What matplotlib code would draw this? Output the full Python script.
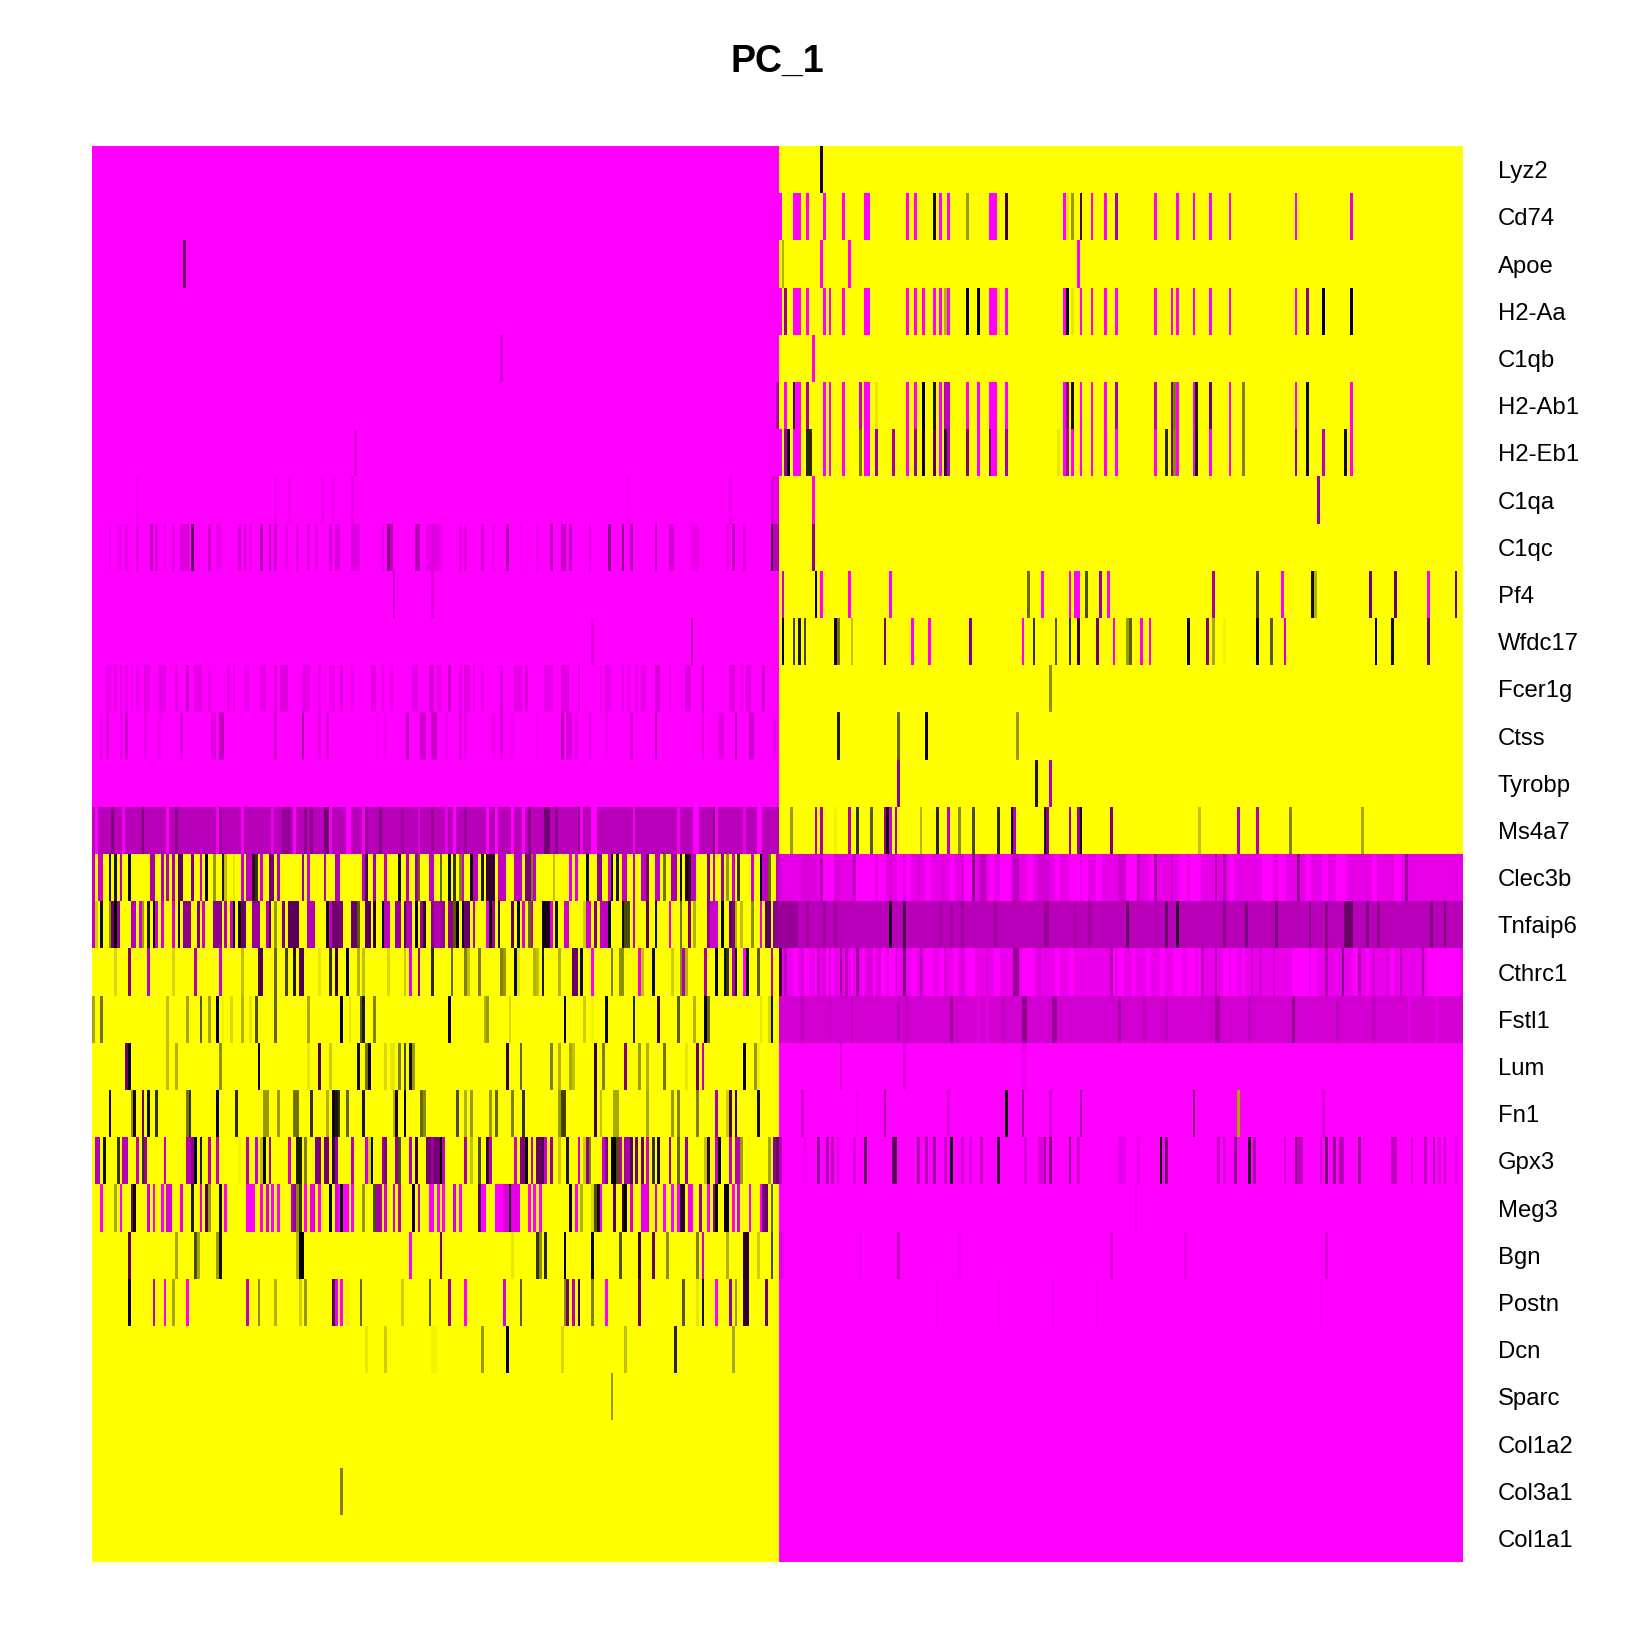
import numpy as np
import matplotlib
matplotlib.use('Agg')
import matplotlib.pyplot as plt
from matplotlib.colors import LinearSegmentedColormap

M = -1.0  # full magenta

genes = ['Lyz2', 'Cd74', 'Apoe', 'H2-Aa', 'C1qb', 'H2-Ab1', 'H2-Eb1', 'C1qa', 'C1qc', 'Pf4',
         'Wfdc17', 'Fcer1g', 'Ctss', 'Tyrobp', 'Ms4a7', 'Clec3b', 'Tnfaip6', 'Cthrc1', 'Fstl1', 'Lum',
         'Fn1', 'Gpx3', 'Meg3', 'Bgn', 'Postn', 'Dcn', 'Sparc', 'Col1a2', 'Col3a1', 'Col1a1']

n_cells = 497

# background scaled value left / right of the split, and the split cell of each row
left_bg = [M]*14 + [-0.72] + [1.0]*15
right_bg = [1.0]*15 + [-0.9, -0.72, -0.92, -0.82] + [M]*11
split = [249, 250, 249, 250, 249, 249, 250, 249, 249, 249,
         249, 249, 249, 249, 249, 248, 248, 249, 249, 249,
         249, 248, 249, 249, 249, 249, 249, 249, 249, 249]

# cells that differ from the row background (cell: scaled value)
lyz2 = {265: -0.1}
cd74 = {255: M, 256: M, 257: M, 260: M, 266: M, 273: M, 281: M, 282: M, 296: M, 299: M, 306: 0.05, 308: M, 311: M,
        318: 0.6, 326: M, 327: M, 328: M, 332: -0.25, 353: M, 354: 0.9, 356: 0.6, 359: -0.3, 363: M, 368: M,
        372: -0.65, 386: M, 394: M, 400: M, 406: M, 413: M, 437: M, 457: -0.9}
apoe = {33: -0.4, 251: 0.7, 265: M, 275: M, 358: M}
h2_aa = {252: -0.6, 255: M, 256: M, 257: M, 260: M, 266: M, 268: M, 273: M, 281: M, 282: M, 296: M, 299: M, 302: M,
         306: M, 308: M, 310: 0.7, 311: M, 318: 0.0, 322: 0.0, 326: M, 327: M, 328: M, 329: 0.9, 332: M, 353: M,
         354: 0.0, 356: 0.9, 359: M, 363: M, 368: M, 372: M, 386: M, 392: M, 394: M, 400: M, 406: M, 413: M,
         437: M, 441: -0.55, 447: 0.0, 457: 0.0}
c1qb = {148: -0.85, 262: M}
h2_ab1 = {249: -0.7, 252: M, 255: -0.3, 256: M, 257: M, 260: -0.65, 266: M, 268: M, 273: M, 279: -0.8, 281: M, 282: M,
          285: 0.9, 296: M, 299: M, 302: 0.0, 306: 0.1, 308: M, 310: -0.75, 311: -0.75, 318: M, 322: M, 326: M,
          327: M, 328: M, 332: M, 353: M, 354: -0.55, 356: 0.05, 359: M, 363: M, 368: M, 372: -0.65, 386: -0.75,
          392: -0.5, 393: 0.5, 394: M, 400: M, 401: 0.1, 406: -0.4, 413: M, 418: 0.5, 437: M, 441: 0.05, 457: M}
h2_eb1 = {95: -0.85, 252: -0.6, 253: 0.0, 255: M, 256: M, 257: M, 260: 0.15, 261: 0.15, 266: M, 268: M, 273: M,
          279: 0.45, 281: M, 282: M, 285: -0.6, 291: -0.65, 296: M, 299: -0.6, 302: -0.1, 306: -0.35, 308: M,
          310: -0.2, 311: -0.7, 318: -0.5, 322: M, 326: -0.5, 327: M, 328: M, 332: -0.65, 351: 0.9, 353: M,
          354: -0.65, 356: M, 359: M, 363: M, 368: M, 372: M, 386: M, 390: 0.15, 392: -0.5, 393: 0.55, 394: M,
          400: M, 401: 0.05, 406: M, 413: M, 418: 0.5, 437: -0.6, 441: 0.05, 447: -0.75, 455: 0.05, 457: M}
c1qa = {16: -0.93, 66: -0.93, 71: -0.93, 83: -0.93, 87: -0.93, 94: -0.9, 194: -0.94, 231: -0.92, 246: -0.85,
        247: -0.9, 248: -0.9, 262: M, 445: -0.6}
c1qc = {6: -0.93, 9: -0.93, 10: -0.93, 12: -0.9, 16: -0.88, 21: -0.75, 23: -0.85, 26: -0.92, 29: -0.88, 32: -0.85,
        33: -0.85, 34: -0.85, 36: -0.35, 42: -0.8, 45: -0.93, 46: -0.93, 53: -0.8, 55: -0.85, 57: -0.9, 61: -0.7,
        64: -0.75, 66: -0.8, 70: -0.9, 74: -0.88, 78: -0.85, 81: -0.9, 86: -0.8, 88: -0.85, 89: -0.85, 94: -0.88,
        95: -0.88, 96: -0.88, 105: -0.9, 107: -0.5, 108: -0.75, 117: -0.7, 118: -0.7, 121: -0.9, 122: -0.9,
        123: -0.88, 124: -0.88, 125: -0.88, 126: -0.93, 133: -0.88, 135: -0.88, 141: -0.82, 145: -0.93, 150: -0.7,
        155: -0.95, 161: -0.9, 166: -0.72, 170: -0.78, 171: -0.78, 173: -0.75, 180: -0.88, 187: -0.55, 192: -0.55,
        195: -0.7, 204: -0.75, 209: -0.8, 210: -0.8, 217: -0.92, 218: -0.92, 219: -0.92, 221: -0.95, 230: -0.9,
        232: -0.75, 236: -0.85, 246: -0.3, 247: -0.72, 248: -0.72, 262: -0.55}
pf4 = {109: -0.8, 123: -0.85, 251: -0.8, 263: 0.0, 265: M, 275: M, 290: M, 340: 0.4, 345: M, 355: M, 357: M, 358: M,
       361: 0.3, 366: -0.6, 369: M, 407: -0.65, 423: 0.25, 432: M, 443: 0.05, 444: 0.7, 464: -0.45, 473: -0.4,
       485: M, 495: -0.4}
wfdc17 = {181: -0.85, 217: -0.7, 251: 0.0, 255: 0.25, 257: 0.1, 259: 0.3, 270: -0.1, 271: 0.45, 276: 0.75, 288: -0.5,
          298: M, 304: M, 319: -0.5, 338: M, 342: 0.2, 350: 0.35, 355: 0.2, 358: -0.2, 365: -0.45, 371: M, 376: 0.6,
          377: 0.35, 381: M, 384: M, 398: 0.0, 405: -0.5, 407: 0.65, 411: 0.95, 423: 0.0, 428: 0.35, 433: -0.8,
          466: 0.0, 472: 0.05, 485: -0.4}
fcer1g = {5: -0.92, 6: -0.92, 8: -0.92, 10: -0.9, 12: -0.92, 14: -0.92, 16: -0.9, 19: -0.9, 20: -0.9, 24: -0.9,
          25: -0.9, 26: -0.9, 30: -0.9, 34: -0.78, 37: -0.9, 38: -0.9, 39: -0.9, 42: -0.92, 49: -0.88, 51: -0.92,
          55: -0.92, 56: -0.92, 61: -0.9, 62: -0.9, 66: -0.85, 68: -0.87, 69: -0.87, 70: -0.87, 76: -0.9, 77: -0.9,
          78: -0.9, 82: -0.9, 86: -0.92, 87: -0.92, 90: -0.85, 94: -0.92, 101: -0.88, 102: -0.88, 105: -0.92,
          108: -0.92, 116: -0.9, 117: -0.9, 122: -0.85, 123: -0.85, 125: -0.9, 126: -0.9, 129: -0.8, 133: -0.9,
          135: -0.88, 136: -0.88, 138: -0.92, 141: -0.9, 148: -0.85, 153: -0.9, 154: -0.9, 155: -0.9, 157: -0.85,
          164: -0.92, 165: -0.9, 166: -0.9, 170: -0.88, 171: -0.88, 172: -0.88, 176: -0.85, 184: -0.92, 186: -0.9,
          187: -0.9, 192: -0.92, 194: -0.92, 197: -0.9, 199: -0.9, 200: -0.9, 204: -0.85, 205: -0.85, 209: -0.92,
          215: -0.87, 216: -0.87, 221: -0.8, 231: -0.87, 232: -0.87, 235: -0.92, 237: -0.88, 238: -0.88, 243: -0.8,
          348: 0.55}
ctss = {3: -0.93, 5: -0.85, 10: -0.88, 12: -0.8, 19: -0.92, 24: -0.93, 32: -0.85, 43: -0.88, 44: -0.88, 46: -0.75,
        47: -0.75, 66: -0.8, 76: -0.65, 82: -0.88, 85: -0.85, 103: -0.93, 106: -0.93, 114: -0.75, 119: -0.8,
        120: -0.8, 123: -0.8, 124: -0.75, 128: -0.93, 133: -0.85, 135: -0.92, 145: -0.92, 148: -0.85, 152: -0.93,
        161: -0.93, 170: -0.7, 172: -0.85, 173: -0.85, 175: -0.92, 180: -0.88, 186: -0.93, 195: -0.85, 204: -0.7,
        221: -0.85, 227: -0.88, 228: -0.88, 233: -0.75, 238: -0.8, 239: -0.8, 247: -0.9,
        271: 0.1, 293: 0.4, 303: 0.0, 336: 0.6}
tyrobp = {293: -0.55, 343: 0.1, 348: -0.7}
ms4a7 = {1: M, 7: -0.5, 11: -0.95, 18: -0.45, 27: M, 30: -0.55, 45: -0.95, 46: -0.6, 54: -0.95, 65: -0.9, 69: -0.6,
         70: -0.6, 71: -0.6, 73: M, 77: -0.55, 79: -0.55, 84: -0.45, 85: -0.45, 86: -0.95, 92: M, 93: M, 98: -0.95,
         99: -0.6, 104: -0.5, 112: -0.62, 118: -0.85, 123: -0.6, 128: -0.9, 131: M, 135: -0.6, 143: M, 146: M,
         152: M, 156: M, 158: -0.55, 164: -0.45, 165: -0.45, 168: -0.55, 176: -0.55, 177: -0.95, 181: M, 182: M,
         196: -0.95, 212: -0.95, 218: M, 219: M, 225: -0.5, 226: -0.95, 236: -0.9, 241: M, 242: M,
         254: 0.6, 263: -0.7, 265: -0.65, 270: 0.95, 275: -0.7, 278: 0.2, 283: 0.35, 288: -0.6, 289: -0.05, 290: -0.8,
         292: -0.65, 301: 0.7, 307: 0.15, 311: -0.75, 315: 0.55, 320: 0.3, 329: 0.15, 334: 0.05, 335: -0.7, 346: 0.1,
         347: -0.55, 355: -0.6, 358: -0.6, 359: -0.05, 370: -0.5, 402: 0.75, 416: -0.7, 423: -0.7, 435: 0.5, 461: 0.65}
clec3b = {0: -0.75, 2: -0.8, 3: -0.8, 6: 0.1, 8: 0.1, 10: -0.7, 13: 0.05, 21: -0.65, 22: -0.65, 25: -0.7, 27: -0.7,
          29: -0.65, 31: -0.35, 32: -0.35, 36: -0.5, 39: -0.8, 41: 0.0, 44: 0.6, 47: 0.1, 48: 0.75, 51: 0.9, 54: -0.8,
          56: -0.75, 57: -0.75, 58: -0.2, 59: 0.2, 61: -0.8, 64: -0.45, 65: -0.45, 67: -0.7, 76: -0.6, 78: -0.8,
          84: -0.7, 88: -0.7, 89: -0.7, 98: -0.75, 99: -0.25, 102: -0.65, 106: -0.75, 111: 0.05, 114: -0.7, 117: -0.6,
          118: 0.4, 122: -0.75, 123: -0.75, 126: 0.4, 129: 0.05, 131: 0.2, 133: 0.5, 134: -0.8, 137: 0.05, 138: -0.75,
          139: -0.75, 141: 0.1, 143: -0.2, 144: -0.2, 145: -0.2, 147: -0.75, 148: -0.75, 149: -0.75, 153: -0.75,
          154: -0.75, 155: -0.75, 157: -0.5, 158: -0.5, 159: 0.5, 160: -0.75, 167: 0.75, 173: -0.9, 175: -0.9,
          179: 0.05, 183: -0.55, 184: -0.55, 187: -0.85, 188: 0.0, 190: 0.1, 192: -0.75, 193: -0.75, 196: -0.75,
          199: -0.75, 200: -0.75, 201: -0.45, 204: -0.75, 205: -0.75, 207: 0.45, 210: -0.65, 211: -0.65, 213: 0.05,
          215: -0.1, 216: -0.2, 217: -0.75, 218: -0.75, 223: -0.55, 225: -0.75, 228: -0.6, 230: 0.6, 232: -0.8,
          234: 0.2, 239: -0.8, 242: 0.0, 243: -0.75, 244: -0.75, 245: 0.4,
          248: -0.55, 249: -0.75, 250: -0.85, 258: -0.85, 259: -0.85, 260: -0.85, 261: -0.85, 262: -0.85, 263: -0.85,
          265: -0.7, 270: -0.85, 271: -0.85, 277: -0.75, 290: -0.85, 300: -0.85, 309: -0.85, 316: -0.85, 320: -0.55,
          323: -0.75, 324: -0.75, 335: -0.75, 336: -0.75, 344: -0.82, 345: -0.82, 346: -0.82, 347: -0.82,
          373: -0.8, 374: -0.8, 375: -0.8, 380: -0.75, 386: -0.65, 392: -0.8, 408: -0.65, 411: -0.7,
          438: -0.55, 477: -0.6}
clec3b_light = [266, 267, 268, 269, 278, 279, 280, 281, 282, 283, 284, 286, 287, 288, 293, 294, 296, 297, 303, 304,
                312, 313, 317, 318, 319, 326, 327, 330, 331, 332, 333, 340, 341, 350, 351, 355, 356, 357, 358, 360,
                361, 365, 366, 376, 377, 378, 379, 384, 385, 395, 396, 397, 399, 400, 401, 402, 413, 414, 425, 426,
                427, 428, 431, 432, 433, 441, 442, 447, 448, 452, 453, 454, 455, 465, 466, 473, 474, 475]
tnfaip6 = {0: -0.75, 1: 0.8, 3: 0.05, 6: 0.55, 7: -0.4, 8: 0.0, 9: -0.6, 14: -0.7, 15: -0.7, 17: -0.85, 18: 0.6,
           20: 0.1, 22: 0.0, 23: -0.8, 25: -0.85, 29: -0.85, 31: 0.05, 33: -0.55, 34: -0.55, 35: -0.55, 38: -0.5,
           40: -0.8, 44: -0.55, 45: -0.55, 46: -0.55, 48: -0.7, 50: -0.8, 51: 0.0, 53: 0.05, 54: -0.4, 55: -0.4,
           58: -0.6, 59: -0.6, 60: -0.6, 63: -0.7, 64: -0.3, 66: 0.6, 69: -0.5, 71: -0.35, 72: -0.35, 73: -0.35,
           74: -0.35, 78: -0.7, 79: -0.7, 80: -0.7, 85: 0.05, 86: -0.75, 87: -0.45, 88: -0.45, 89: -0.45, 90: -0.45,
           94: -0.4, 95: -0.4, 96: 0.35, 99: -0.35, 100: -0.35, 102: -0.15, 105: 0.0, 106: -0.75, 107: -0.75,
           110: -0.6, 111: -0.6, 113: -0.35, 114: -0.7, 115: -0.7, 117: 0.0, 119: -0.6, 120: -0.15, 123: -0.55,
           124: -0.7, 125: -0.7, 126: -0.6, 127: -0.6, 129: -0.55, 130: -0.55, 131: 0.35, 132: 0.0, 134: -0.1,
           135: -0.4, 136: -0.4, 138: -0.7, 143: -0.9, 144: 0.0, 145: -0.6, 147: 0.1, 152: -0.35, 154: 0.0, 156: -0.85,
           158: 0.4, 159: -0.7, 163: -0.1, 164: -0.1, 165: -0.1, 166: -0.85, 168: 0.05, 171: -0.8, 172: -0.8, 178: 0.8,
           179: -0.8, 180: -0.8, 182: -0.5, 184: -0.75, 185: -0.75, 186: -0.75, 187: 0.0, 192: 0.05, 193: 0.3, 194: 0.3,
           196: -0.75, 201: -0.35, 204: 0.05, 209: -0.9, 213: 0.45, 216: -0.5, 218: 0.7, 223: -0.55, 224: -0.8,
           225: -0.8, 226: -0.8, 228: 0.0, 231: -0.4, 232: -0.5, 233: 0.7, 235: 0.75, 239: 0.55, 242: -0.9, 244: -0.35,
           245: -0.35, 247: -0.55, 248: -0.55,
           250: -0.6, 251: -0.6, 252: -0.6, 253: -0.6, 254: -0.6, 255: -0.6, 256: -0.6, 260: -0.62, 266: -0.62,
           270: -0.62, 290: -0.1, 295: -0.3, 308: -0.65, 312: -0.62, 316: -0.62, 328: -0.62, 346: -0.6, 347: -0.6,
           357: -0.65, 362: -0.62, 376: -0.4, 390: -0.4, 394: -0.2, 411: -0.55, 419: -0.5, 430: -0.45, 442: -0.55,
           448: -0.55, 455: -0.4, 456: -0.4, 457: -0.4, 463: -0.5, 467: -0.55, 486: -0.5, 491: -0.5}
cthrc1 = {8: 0.85, 13: -0.5, 20: -0.75, 29: 0.85, 37: -0.7, 46: -0.8, 54: 0.75, 60: -0.3, 61: -0.3, 66: 0.4, 70: 0.25,
          73: 0.1, 75: -0.3, 76: -0.3, 82: 0.9, 86: 0.2, 88: -0.2, 92: 0.0, 96: 0.7, 98: 0.75, 107: 0.85, 113: 0.8,
          115: -0.9, 118: -0.6, 123: 0.15, 130: 0.4, 135: 0.5, 136: 0.75, 140: 0.5, 148: 0.5, 149: 0.6, 153: 0.05,
          154: 0.9, 160: 0.7, 161: 0.75, 163: 0.1, 169: 0.7, 174: -0.4, 175: -0.4, 177: 0.05, 181: M, 188: 0.5,
          191: 0.55, 192: 0.55, 198: -0.95, 199: 0.75, 203: 0.05, 210: 0.8, 213: 0.55, 214: -0.7, 215: 0.7, 222: -0.65,
          226: 0.0, 229: 0.05, 230: 0.2, 232: -0.7, 233: 0.1, 236: M, 237: 0.05, 241: 0.35, 246: -0.7,
          250: -0.2, 252: -0.75, 258: -0.85, 264: -0.8, 266: -0.85, 268: -0.85, 272: -0.6, 274: -0.75,
          278: -0.6, 282: -0.85, 283: -0.85, 286: -0.85, 295: -0.5, 301: -0.7, 310: -0.85, 316: -0.85, 325: -0.85,
          335: -0.6, 336: -0.6, 344: -0.85, 370: -0.7, 403: -0.75, 408: -0.7, 421: -0.8, 424: -0.8, 429: -0.8,
          448: -0.7, 454: -0.5, 460: -0.7, 465: -0.85, 470: -0.85, 475: -0.7, 483: -0.65}
cthrc1_light = [255, 256, 259, 260, 263, 267, 269, 276, 280, 284, 287, 288, 290, 291, 298, 299, 303, 304, 305, 308,
                309, 313, 314, 318, 319, 320, 328, 329, 338, 339, 340, 341, 342, 350, 351, 355, 356, 371, 373, 374,
                378, 383, 384, 388, 389, 393, 394, 395, 398, 399, 400, 402, 411, 412, 414, 415, 418, 436, 437, 438,
                439, 440, 441, 443, 444, 458, 459, 463, 472, 485, 486, 487, 488, 489, 490, 491, 492, 493, 494, 495, 496]
fstl1 = {0: 0.65, 3: 0.45, 27: 0.75, 34: 0.65, 39: 0.35, 42: 0.65, 45: 0.0, 47: 0.95, 50: 0.85, 54: 0.7, 57: 0.9, 59: 0.3,
         66: 0.4, 78: 0.65, 90: 0.0, 93: 0.9, 97: 0.35, 98: 0.1, 102: 0.5, 129: 0.0, 142: 0.7, 143: 0.6, 151: 0.85,
         171: 0.0, 178: 0.8, 181: 0.95, 186: 0.0, 196: 0.15, 205: -0.2, 212: 0.35, 218: 0.7, 222: 0.0, 223: 0.4,
         242: 0.9, 245: 0.85, 246: 0.05,
         258: -0.75, 268: -0.78, 276: -0.75, 293: -0.72, 296: -0.75, 312: -0.6, 322: -0.88, 325: -0.88, 331: -0.75,
         338: -0.55, 339: -0.55, 349: -0.6, 350: -0.6, 373: -0.65, 382: -0.75, 390: -0.75, 408: -0.65, 409: -0.65,
         420: -0.75, 436: -0.55, 452: -0.75, 465: -0.75, 478: -0.88, 488: -0.88}
lum = {12: -0.4, 13: 0.0, 27: 0.75, 30: 0.7, 46: 0.55, 60: 0.0, 78: 0.9, 82: -0.3, 86: 0.8, 96: 0.05, 99: 0.45, 100: 0.0,
       106: 0.85, 108: 0.9, 109: 0.9, 111: 0.5, 113: 0.3, 115: 0.05, 116: 0.6, 150: -0.2, 155: 0.4, 166: 0.5, 169: 0.7,
       173: 0.65, 174: 0.75, 182: -0.2, 185: 0.5, 193: -0.5, 198: 0.6, 201: 0.7, 207: 0.45, 215: 0.9, 219: -0.4,
       221: -0.75, 236: 0.0, 240: 0.6, 241: 0.95, 272: -0.85, 295: -0.88, 338: -0.93, 339: -0.93}
fn1 = {6: -0.1, 14: 0.55, 15: -0.1, 18: -0.45, 20: 0.05, 23: 0.2, 34: 0.45, 35: 0.2, 45: 0.0, 52: 0.15, 62: 0.6, 63: 0.6,
       67: 0.6, 73: 0.45, 74: 0.45, 79: 0.2, 85: 0.7, 87: -0.1, 88: 0.1, 89: 0.2, 92: 0.4, 98: 0.1, 109: 0.7, 110: -0.1,
       113: 0.0, 119: 0.4, 120: 0.55, 132: 0.3, 135: 0.7, 137: 0.6, 144: 0.6, 146: 0.4, 152: 0.5, 156: 0.2, 169: 0.6,
       170: 0.25, 171: 0.25, 182: -0.25, 184: 0.75, 189: 0.65, 190: 0.65, 201: 0.65, 210: 0.6, 212: 0.5, 219: 0.5,
       226: -0.65, 230: 0.8, 231: -0.3, 233: -0.2, 241: 0.05,
       258: -0.8, 278: -0.93, 288: -0.65, 311: -0.85, 332: 0.0, 338: -0.6, 348: -0.85, 359: -0.65, 400: -0.5, 416: 0.65,
       447: -0.85}
gpx3 = {1: -0.7, 2: -0.7, 4: 0.05, 9: 0.2, 11: -0.7, 12: -0.7, 16: -0.75, 18: 0.2, 19: -0.6, 26: -0.75, 34: -0.7, 35: -0.7,
        36: -0.55, 37: 0.0, 39: 0.1, 42: -0.7, 45: -0.75, 53: 0.95, 56: -0.7, 59: -0.8, 61: 0.75, 62: 0.0, 64: -0.6,
        71: -0.8, 74: 0.1, 75: 0.1, 77: 0.5, 81: -0.5, 82: -0.5, 84: -0.45, 85: -0.45, 87: -0.2, 88: -0.6, 94: -0.7,
        99: -0.8, 100: 0.8, 101: 0.0, 105: -0.6, 106: -0.5, 110: -0.55, 111: 0.3, 115: -0.7, 117: -0.2, 121: -0.45,
        122: -0.45, 123: -0.6, 124: -0.45, 125: -0.45, 126: 0.0, 127: -0.75, 135: -0.65, 137: 0.75, 140: 0.3, 143: -0.2,
        144: -0.7, 153: -0.8, 155: -0.5, 156: -0.5, 157: 0.0, 159: -0.75, 161: -0.4, 162: -0.4, 163: -0.3, 164: -0.8,
        166: -0.6, 169: 0.8, 172: 0.1, 176: -0.8, 178: 0.8, 179: -0.55, 180: 0.5, 185: -0.8, 186: -0.5, 188: 0.0, 189: 0.0,
        190: 0.3, 191: -0.7, 193: -0.65, 194: -0.65, 195: -0.3, 197: -0.45, 199: -0.4, 201: -0.8, 203: 0.2, 205: -0.1,
        209: -0.6, 212: 0.4, 215: -0.6, 222: 0.75, 223: -0.2, 226: -0.8, 227: 0.0, 231: -0.75, 233: -0.7, 234: -0.7,
        235: 0.6, 245: 0.65, 247: -0.55,
        248: -0.4, 250: -0.7, 259: -0.9, 264: -0.55, 267: -0.7, 269: -0.75, 271: -0.9, 277: -0.85, 281: -0.4, 291: -0.35,
        292: -0.35, 300: -0.65, 303: -0.7, 306: -0.6, 310: -0.8, 312: -0.1, 316: -0.8, 319: -0.88, 323: -0.75, 329: -0.2,
        339: -0.85, 344: -0.85, 345: -0.85, 346: -0.65, 348: -0.5, 355: -0.55, 358: -0.8, 373: -0.9, 374: -0.9, 375: -0.9,
        380: -0.9, 388: 0.0, 390: -0.45, 409: -0.75, 411: -0.85, 415: -0.6, 420: -0.15, 422: -0.7, 433: -0.8, 437: -0.5,
        438: -0.75, 439: -0.75, 446: -0.8, 448: -0.45, 451: -0.6, 453: -0.7, 454: -0.7, 460: -0.6, 472: -0.75, 473: -0.75,
        479: -0.8, 484: -0.75, 487: -0.65, 489: -0.85, 491: -0.8, 495: -0.9}
meg3 = {3: M, 8: 0.65, 10: M, 14: -0.4, 15: -0.05, 20: -0.85, 22: M, 25: M, 27: -0.85, 28: -0.85, 32: -0.9, 36: 0.1, 39: -0.85,
        41: -0.3, 42: 0.6, 46: 0.05, 48: M, 56: M, 57: M, 58: M, 61: M, 63: -0.85, 65: M, 67: M, 72: -0.75, 73: -0.6, 74: 0.55,
        75: 0.2, 77: M, 79: -0.9, 80: -0.9, 82: M, 86: 0.0, 88: -0.85, 89: M, 90: 0.0, 91: M, 92: M, 94: M, 98: 0.6, 102: 0.3,
        103: -0.65, 104: -0.65, 106: -0.85, 109: -0.85, 111: -0.7, 116: -0.05, 118: -0.75, 122: M, 123: M, 125: M, 127: M,
        131: -0.85, 133: M, 140: -0.3, 141: M, 142: M, 146: M, 147: M, 148: M, 149: -0.85, 150: -0.85, 151: -0.1, 152: -0.9,
        153: -0.9, 154: -0.9, 158: M, 160: M, 162: M, 173: -0.05, 175: M, 177: 0.7, 181: 0.85, 182: 0.3, 183: -0.1, 184: M,
        189: -0.35, 192: -0.2, 193: 0.0, 195: -0.85, 199: -0.9, 200: -0.9, 201: -0.9, 204: -0.85, 207: M, 210: M, 212: M,
        213: -0.15, 214: -0.15, 216: -0.95, 217: -0.95, 220: -0.6, 223: M, 225: -0.55, 226: 0.0, 229: -0.05, 230: -0.05,
        232: M, 234: -0.85, 238: M, 242: M, 243: -0.5, 244: -0.4, 246: 0.4, 379: -0.9}
bgn = {13: -0.35, 30: 0.65, 37: 0.3, 38: 0.65, 45: 0.6, 46: 0.05, 74: 0.7, 75: 0.0, 76: 0.0, 115: M, 126: -0.5, 152: 0.9,
       161: 0.2, 162: 0.55, 164: 0.15, 171: 0.0, 181: 0.0, 191: 0.3, 198: -0.2, 203: -0.4, 208: 0.55, 219: 0.5, 221: -0.8,
       230: 0.7, 236: -0.15, 237: -0.15, 241: 0.8, 246: 0.3,
       250: -0.9, 251: -0.9, 279: -0.93, 293: -0.75, 315: -0.93, 370: -0.85, 397: -0.9, 448: -0.85}
postn = {13: 0.0, 22: -0.75, 26: M, 29: 0.65, 34: M, 56: -0.75, 60: 0.55, 66: 0.7, 75: 0.8, 77: 0.6, 87: -0.3, 88: -0.95, 90: M,
         92: 0.95, 97: 0.4, 112: 0.8, 122: 0.35, 129: -0.6, 135: M, 149: -0.85, 155: 0.35, 171: 0.55, 172: -0.45, 174: -0.7,
         176: -0.2, 181: 0.5, 186: M, 198: -0.4, 214: 0.35, 219: 0.9, 221: 0.05, 226: M, 231: -0.6, 233: 0.6, 236: -0.2,
         237: -0.2, 244: -0.4, 307: -0.95, 329: -0.95, 349: -0.95, 365: -0.95, 446: -0.95}
dcn = {99: 0.9, 106: 0.8, 123: 0.95, 124: 0.95, 141: 0.6, 150: 0.0, 170: 0.85, 193: 0.75, 211: 0.15, 232: 0.65}
sparc = {188: 0.6}
col1a2 = {}
col3a1 = {90: 0.5}
col1a1 = {}

rows = [lyz2, cd74, apoe, h2_aa, c1qb, h2_ab1, h2_eb1, c1qa, c1qc, pf4,
        wfdc17, fcer1g, ctss, tyrobp, ms4a7, clec3b, tnfaip6, cthrc1, fstl1, lum,
        fn1, gpx3, meg3, bgn, postn, dcn, sparc, col1a2, col3a1, col1a1]

for c in clec3b_light:
    clec3b.setdefault(c, M)
for c in cthrc1_light:
    cthrc1.setdefault(c, M)

mat = np.zeros((len(genes), n_cells))
for i, row in enumerate(rows):
    mat[i, :split[i]] = left_bg[i]
    mat[i, split[i]:] = right_bg[i]
    for cell, val in row.items():
        # marks of the right block sit one cell further left than the count gives
        mat[i, cell - 1 if cell >= 249 else cell] = val

PurpleAndYellow = LinearSegmentedColormap.from_list('PurpleAndYellow', ['#FF00FF', '#000000', '#FFFF00'])

plt.rcParams['font.family'] = ['Liberation Sans', 'DejaVu Sans']

W = 1632
fig = plt.figure(figsize=(W/100, W/100), dpi=100)
ax = fig.add_axes([92/W, 1 - 1562/W, 1370.4/W, 1416/W])
ax.imshow(mat, aspect='auto', cmap=PurpleAndYellow, vmin=-1, vmax=1, interpolation='nearest')

ax.set_xticks([])
ax.yaxis.tick_right()
ax.set_yticks(np.arange(len(genes)))
ax.set_yticklabels(genes, fontsize=17.2)
ax.tick_params(axis='y', length=0, pad=25.5)
for s in ax.spines.values():
    s.set_visible(False)

fig.text(777/W, 1 - 62/W, 'PC_1', fontsize=27, fontweight='bold', ha='center', va='center')

plt.savefig('out.png', dpi=100)
